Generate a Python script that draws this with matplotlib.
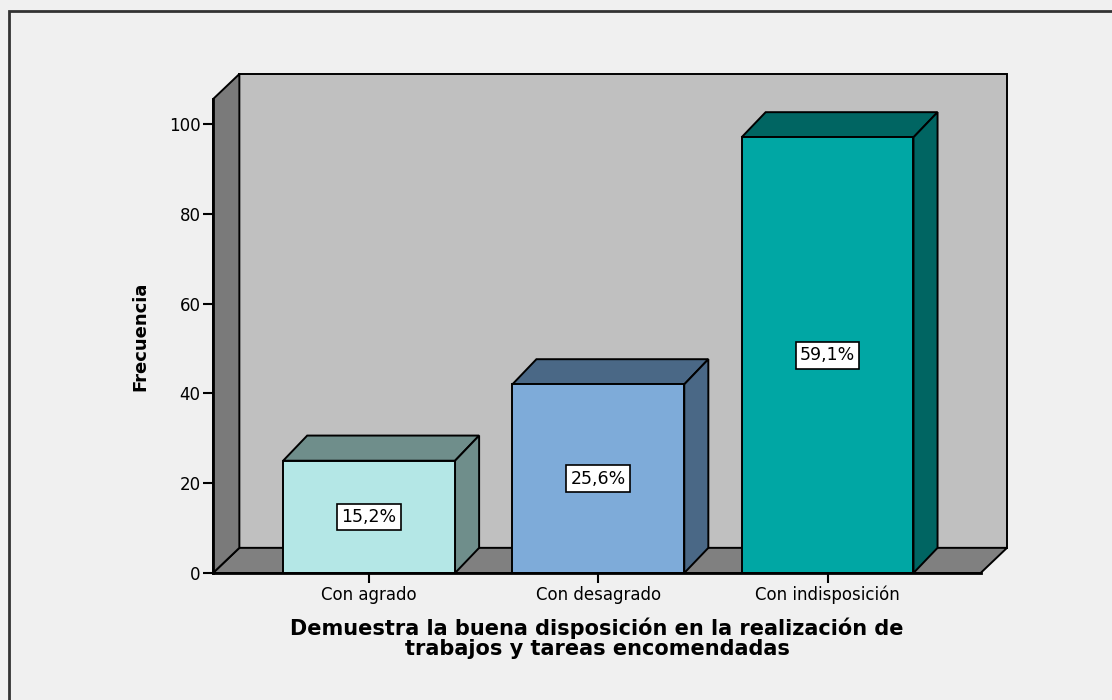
import matplotlib
matplotlib.use("Agg")
import matplotlib.pyplot as plt
from matplotlib.patches import Polygon, Rectangle

categories = ["Con agrado", "Con desagrado", "Con indisposición"]
frecuencias = [25, 42, 97]
porcentajes = ["15,2%", "25,6%", "59,1%"]
front_colors = ["#b4e7e6", "#7eabd9", "#00a7a4"]
side_colors = ["#6f8e8b", "#4a6886", "#006562"]
yticks = [0, 20, 40, 60, 80, 100]

plt.rcParams['font.family'] = ['DejaVu Sans']

fig = plt.figure(figsize=(11.12, 7), dpi=100, facecolor="#f0f0f0")
ax = fig.add_axes([213/1112, 127/700, 794/1112, 499/700])
ax.set_facecolor("none")

# geometry in data units
xmin, xfront = -0.681, 2.668
dx, dy = 0.115, 5.6
ytop = 111.1
bw = 0.75
bdx = 0.105
lw = 1.4

ax.set_xlim(xmin, xfront + dx)
ax.set_ylim(0, ytop)

# back wall
ax.add_patch(Polygon([(xmin + dx, dy), (xmin + dx, ytop), (xfront + dx, ytop), (xfront + dx, dy)],
                     closed=True, facecolor="#c0c0c0", edgecolor="black", lw=lw, zorder=1, clip_on=False))
# floor
ax.add_patch(Polygon([(xmin, 0), (xfront, 0), (xfront + dx, dy), (xmin + dx, dy)],
                     closed=True, facecolor="#808080", edgecolor="black", lw=lw, zorder=2, clip_on=False))
# left wall
ax.add_patch(Polygon([(xmin, 0), (xmin, ytop - dy), (xmin + dx, ytop), (xmin + dx, dy)],
                     closed=True, facecolor="#7a7a7a", edgecolor="black", lw=lw, zorder=2, clip_on=False))

xs = list(range(len(categories)))
ax.bar(xs, frecuencias, width=bw, color=front_colors, edgecolor="black", linewidth=lw, zorder=4)
for x, v, sc, lab in zip(xs, frecuencias, side_colors, porcentajes):
    l, r = x - bw/2, x + bw/2
    ax.add_patch(Polygon([(l, v), (l + bdx, v + dy), (r + bdx, v + dy), (r, v)],
                         closed=True, facecolor=sc, edgecolor="black", lw=lw, zorder=3))
    ax.add_patch(Polygon([(r, 0), (r + bdx, dy), (r + bdx, v + dy), (r, v)],
                         closed=True, facecolor=sc, edgecolor="black", lw=lw, zorder=3))
    ax.text(x, v/2, lab, ha="center", va="center", fontsize=12.5, zorder=6,
            bbox=dict(boxstyle="square,pad=0.25", facecolor="white", edgecolor="black", lw=1.2))

for s in ["top", "right"]:
    ax.spines[s].set_visible(False)
ax.spines["left"].set_bounds(0, ytop - dy)
ax.spines["bottom"].set_bounds(xmin, xfront)
ax.spines["left"].set_linewidth(2)
ax.spines["bottom"].set_linewidth(2)
ax.spines["left"].set_zorder(5)
ax.spines["bottom"].set_zorder(5)

ax.set_yticks(yticks)
ax.set_xticks(xs)
ax.set_xticklabels(categories)
ax.tick_params(axis="both", direction="out", length=7, width=1.5, labelsize=12, pad=2)

fig.text(140/1112, 1 - 336/700, "Frecuencia", rotation=90, ha="center", va="center",
         fontsize=13, fontweight="bold")
fig.text(597/1112, 1 - 638/700,
         "Demuestra la buena disposición en la realización de\ntrabajos y tareas encomendadas",
         ha="center", va="center", fontsize=15, fontweight="bold", linespacing=0.98)

# outer frame
fig.patches.append(Rectangle((9/1112, -0.05), 1.2, 0.05 + 689/700, transform=fig.transFigure,
                             fill=False, edgecolor="#333333", lw=2))

fig.savefig("out.png", dpi=100, facecolor=fig.get_facecolor())
